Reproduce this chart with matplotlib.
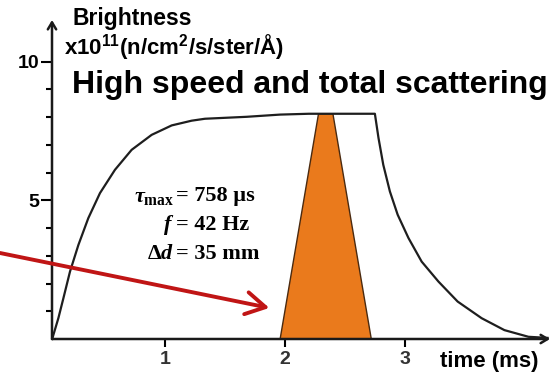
import matplotlib
matplotlib.use('Agg')
from matplotlib import pyplot as plt

plt.rcParams['font.family'] = 'Liberation Sans'
plt.rcParams['font.weight'] = 'bold'
plt.rcParams['mathtext.fontset'] = 'custom'
plt.rcParams['mathtext.it'] = 'Liberation Serif:italic:bold'
plt.rcParams['mathtext.rm'] = 'Liberation Serif:bold'

# brightness of the source pulse (x10^11 n/cm^2/s/ster/A) against time in ms
rise_t = [0.06, 0.069, 0.111, 0.153, 0.208, 0.278, 0.361, 0.458, 0.583, 0.722, 0.889,
          1.056, 1.222, 1.333, 1.68, 1.96, 2.2, 2.75]
rise_v = [0.0, 0.14, 0.75, 1.47, 2.43, 3.39, 4.36, 5.26, 6.10, 6.82, 7.36,
          7.70, 7.87, 7.94, 8.01, 8.09, 8.12, 8.12]
fall_t = [2.78, 2.82, 2.875, 2.94, 3.03, 3.14, 3.28, 3.44, 3.64, 3.83, 4.03, 4.19]
fall_v = [7.25, 6.28, 5.32, 4.48, 3.64, 2.79, 2.07, 1.35, 0.75, 0.32, 0.08, 0.04]

# chopper opening window
window_t = [1.96, 2.28, 2.40, 2.72]
window_v = [0.0, 8.12, 8.12, 0.0]

x_ticks = [1, 2, 3]
y_major = [5, 10]
y_minor = [1, 2, 3, 4, 6, 7, 8, 9]

settings = [(r'$\tau_{\rm max}$', '= 758 µs'),
            (r'$f$', '= 42 Hz'),
            (r'$\Delta d$', '= 35 mm')]

xmin, xmax = 0.058, 4.21
ymin, ymax = 0.0, 11.5

fig = plt.figure(figsize=(5.52, 3.78), dpi=100)
ax = fig.add_axes([52 / 552, 39 / 378, 498 / 552, 319 / 378])
ax.set_xlim(xmin, xmax)
ax.set_ylim(ymin, ymax)
for s in ax.spines.values():
    s.set_visible(False)

# axes drawn as arrows
arrow_kw = dict(arrowstyle='->,head_length=0.5,head_width=0.3', lw=1.8, color='#1a1a1a',
                shrinkA=0, shrinkB=0)
ax.annotate('', xy=(xmax, 0), xytext=(xmin, 0), annotation_clip=False, arrowprops=arrow_kw)
ax.annotate('', xy=(xmin, ymax), xytext=(xmin, 0), annotation_clip=False, arrowprops=arrow_kw)

ax.fill(window_t, window_v, facecolor='#ea7a1c', edgecolor='#4a2a10', lw=1.0, zorder=2)
ax.plot(rise_t + fall_t, rise_v + fall_v, color='#1e1e1e', lw=1.6, zorder=3, clip_on=False)

ax.set_xticks(x_ticks)
ax.set_xticklabels([str(t) for t in x_ticks], fontsize=14, color='#333333')
ax.set_yticks(y_major)
ax.set_yticklabels([str(t) for t in y_major], fontsize=14)
ax.set_yticks(y_minor, minor=True)
ax.tick_params(axis='x', direction='out', length=6, width=1.5, pad=3)
ax.tick_params(axis='y', which='major', direction='out', length=8, width=1.5, pad=1)
ax.tick_params(axis='y', which='minor', direction='out', length=4.5, width=1.5)

ax.text(0.225, 11.57, 'Brightness', fontsize=16.5, ha='left', va='center')
ax.text(0.158, 10.52, r'x10$\mathdefault{^{11}}$(n/cm$\mathdefault{^{2}}$/s/ster/Å)',
        fontsize=16, ha='left', va='center')
ax.text(0.225, 9.15, 'High speed and total scattering', fontsize=23, ha='left', va='center')
ax.text(3.29, -0.82, 'time (ms)', fontsize=16, ha='left', va='center', clip_on=False)

# chopper settings
for i, (lhs, rhs) in enumerate(settings):
    yv = 5.15 - i * 1.04
    ax.text(1.08, yv, lhs, fontsize=16, ha='right', va='center')
    ax.text(1.09, yv, rhs, fontsize=16, ha='left', va='center', family='Liberation Serif',
            fontweight='bold')

ax.annotate('', xy=(1.87, 1.12), xytext=(-0.375, 3.1), annotation_clip=False,
            arrowprops=dict(arrowstyle='->,head_length=0.7,head_width=0.4', lw=2.8,
                            color='#c01515', shrinkA=0, shrinkB=0, mutation_scale=20))

fig.savefig('out.png', dpi=100)
